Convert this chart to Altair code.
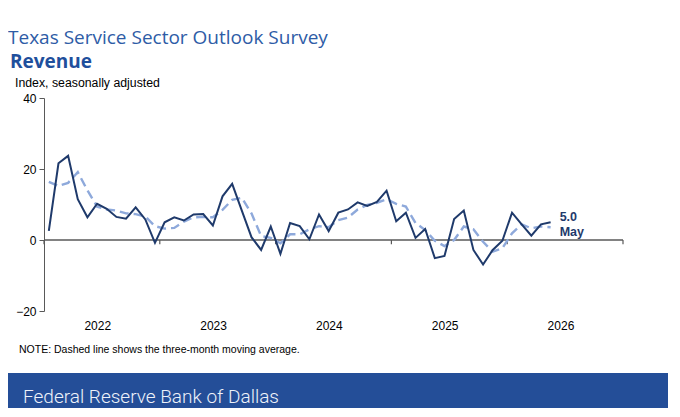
import altair as alt
import pandas as pd

# ---- data ----
start_year = 2022
revenue = [2.6, 21.6, 23.7, 11.5, 6.4, 10.2, 8.8, 6.5, 6.0, 9.2, 5.8, -0.8,
           5.0, 6.4, 5.5, 7.2, 7.3, 4.1, 12.3, 15.8, 8.3, 0.8, -2.8, 3.8,
           -3.9, 4.8, 3.9, 0.2, 7.2, 2.5, 7.7, 8.6, 10.6, 9.6, 10.7, 13.9,
           5.3, 7.7, 0.6, 3.1, -5.1, -4.5, 5.9, 8.3, -2.8, -6.9, -2.8, -0.2,
           7.7, 4.4, 1.2, 4.4, 5.0]
moving_avg = [16.4, 15.2, 16.1, 19.1, 14.0, 9.4, 8.6, 8.3, 7.5, 7.3, 6.6, 3.9,
              3.2, 3.4, 5.2, 6.4, 6.5, 6.4, 8.5, 11.3, 11.9, 7.5, 1.1, 0.6,
              -0.9, 1.6, 1.6, 3.0, 3.9, 3.6, 5.6, 6.3, 8.6, 9.9, 10.5, 11.5,
              10.2, 9.4, 4.8, 2.8, -0.2, -1.7, 0.0, 3.8, 3.0, -0.5, -3.3, -2.3,
              1.9, 4.4, 3.3, 3.8, 3.6]
year_ticks = [2022, 2023, 2024, 2025, 2026, 2027]
year_labels = [2022, 2023, 2024, 2025, 2026]
y_ticks = [-20, 0, 20, 40]
last_label = "May"

# decimal-year position of each month (mid-month)
t = [start_year + (i // 12) + ((i % 12) + 0.5) / 12 for i in range(len(revenue))]
df = pd.DataFrame({"t": t, "rev": revenue, "ma": moving_avg})
last = df.tail(1).copy()
last["lab1"] = f"{revenue[-1]:.1f}"
last["lab2"] = last_label

X_DOMAIN = [year_ticks[0], year_ticks[-1]]
W, H = 579, 213

x = alt.X("t:Q", scale=alt.Scale(domain=X_DOMAIN, nice=False, zero=False),
          axis=alt.Axis(values=[y + 0.46 for y in year_labels],
                        labelExpr="floor(datum.value)", domain=False, ticks=False,
                        grid=False, title=None, labelFontSize=12, labelPadding=9,
                        labelColor="#000000", labelFont="Liberation Sans"))
y_scale = alt.Scale(domain=[-20, 40], nice=False)
y_axis = alt.Axis(values=y_ticks, grid=False, title=None, tickSize=5,
                  tickColor="#595959", domainColor="#595959", labelFontSize=12,
                  labelFont="Liberation Sans", labelColor="#000000", labelPadding=3)

one = pd.DataFrame({"a": [0]})

band = alt.Chart(one).mark_rect(color="#244E98").encode(
    x=alt.value(-40), x2=alt.value(700), y=alt.value(275), y2=alt.value(340))

zero_line = alt.Chart(one).mark_rule(color="#595959", strokeWidth=1.3).encode(
    x=alt.X(datum=X_DOMAIN[0], type="quantitative", scale=alt.Scale(domain=X_DOMAIN, nice=False, zero=False)),
    x2=alt.X2(datum=X_DOMAIN[1]),
    y=alt.Y(datum=0, type="quantitative", scale=y_scale))

ticks_df = pd.DataFrame({"t": year_ticks})
ticks = alt.Chart(ticks_df).mark_rule(color="#595959", strokeWidth=1.2).encode(
    x=alt.X("t:Q"), y=alt.Y(datum=0, type="quantitative"), y2=alt.Y2(datum=-1.2))

ma_line = alt.Chart(df).mark_line(color="#8EA9DB", strokeWidth=2.4,
                                  strokeDash=[9, 5]).encode(
    x=x, y=alt.Y("ma:Q", scale=y_scale, axis=y_axis))

rev_line = alt.Chart(df).mark_line(color="#1F3A6B", strokeWidth=2).encode(
    x=alt.X("t:Q"), y=alt.Y("rev:Q"))

lab1 = alt.Chart(last).mark_text(align="left", baseline="middle", dx=9, dy=-5,
                                 fontSize=12.5, fontWeight="bold", color="#1F3A6B",
                                 font="Liberation Sans").encode(
    x=alt.X("t:Q"), y=alt.Y("rev:Q"), text="lab1:N")
lab2 = alt.Chart(last).mark_text(align="left", baseline="middle", dx=9, dy=10,
                                 fontSize=12.5, fontWeight="bold", color="#1F3A6B",
                                 font="Liberation Sans").encode(
    x=alt.X("t:Q"), y=alt.Y("rev:Q"), text="lab2:N")


def txt(s, xpx, ypx, size, color, weight="normal", font="Liberation Sans"):
    return alt.Chart(pd.DataFrame({"s": [s]})).mark_text(
        align="left", baseline="alphabetic", fontSize=size, fontWeight=weight,
        color=color, font=font).encode(x=alt.value(xpx), y=alt.value(ypx), text="s:N")


title1 = txt("Texas Service Sector Outlook Survey", -36, -54, 19, "#2E5CA6", "normal", "Open Sans")
title2 = txt("Revenue", -34, -30, 19, "#1F4F9C", "bold", "Open Sans")
ytitle = txt("Index, seasonally adjusted", -29, -11, 12.3, "#000000")
note = txt("NOTE: Dashed line shows the three-month moving average.", -25, 255, 10.5, "#000000")
footer = txt("Federal Reserve Bank of Dallas", -21, 305, 19, "#EEF2FA", 300, "Roboto")

chart = alt.layer(
    band, zero_line, ticks, ma_line, rev_line, lab1, lab2,
    title1, title2, ytitle, note, footer
).properties(
    width=W, height=H,
    autosize=alt.AutoSizeParams(type="none"),
    padding={"left": 36, "top": 90, "right": 45, "bottom": 97},
).configure(background="white").configure_view(strokeWidth=0, strokeOpacity=0)

chart.save("out.html", embed_options={"renderer": "svg", "actions": False})
